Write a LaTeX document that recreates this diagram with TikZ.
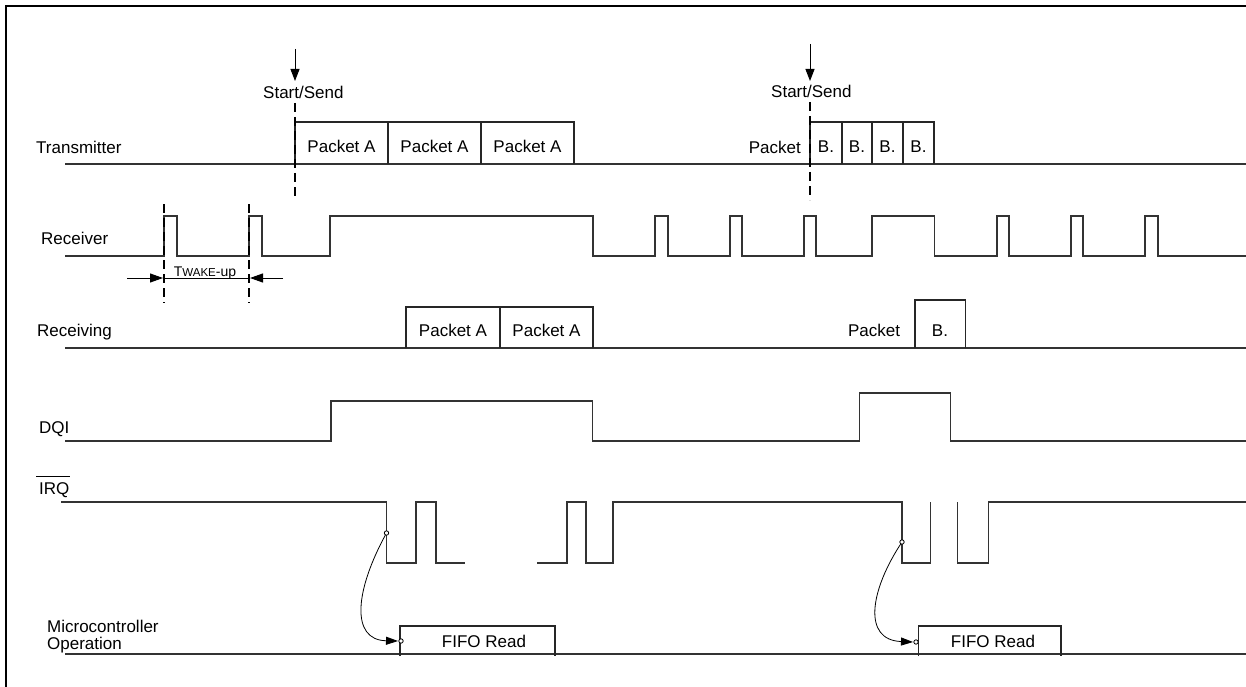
\documentclass[tikz,border=0pt]{standalone}
\usepackage{fontspec}
\setmainfont{Liberation Sans}
\usetikzlibrary{arrows.meta}
\begin{document}
\begin{tikzpicture}[x=1pt,y=-1pt,
  lbl/.style={font=\fontsize{17}{20}\selectfont, inner sep=0pt},
  sig/.style={line width=1.1pt, draw=black!80, line join=miter},
  box/.style={line width=1.1pt, draw=black!85},
  dsh/.style={line width=2pt, dash pattern=on 9pt off 5pt, draw=black},
  arr/.style={line width=1pt, -{Triangle[length=12pt,width=9pt]}},
  carr/.style={line width=0.8pt, -{Triangle[length=12pt,width=8pt]}},
  dot/.style={line width=0.8pt, draw=black, fill=white}]
\useasboundingbox (0,0) rectangle (1246,687);
% frame
\draw[line width=2.5pt] (6,687) -- (6,6) -- (1246,6);

% ---------- labels ----------
\node[lbl, anchor=base west] (ltx) at (36,154) {Transmitter};
\node[lbl, anchor=base west] (lrx) at (41,244) {Receiver};
\node[lbl, anchor=base west] (lrcv) at (37,336) {Receiving};
\node[lbl, anchor=base west] (ldqi) at (39,433) {DQI};
\node[lbl, anchor=base west] (lirq) at (39,494) {IRQ};
\draw[line width=1pt] ([xshift=-3pt,yshift=5pt]lirq.north west) -- ([yshift=5pt]lirq.north east);
\node[lbl, anchor=base west] (lmc1) at (47,632) {Microcontroller};
\node[lbl, anchor=base west] (lmc2) at (47,649) {Operation};

% ---------- Start/Send markers ----------
\node[lbl, anchor=base west] (ss1) at (263,99) {Start/Send};
\node[lbl, anchor=base west] (ss2) at (771,98) {Start/Send};
\coordinate (a1s) at (295,49); \coordinate (a1t) at (295,81);
\coordinate (a2s) at (810,44); \coordinate (a2t) at (810,81);
\draw[arr] (a1s) -- (a1t);
\draw[arr] (a2s) -- (a2t);

% ---------- Transmitter ----------
\draw[sig] (65,164) -- (1246,164);
\draw[box] (295,164) -- (295,122) -- (574,122) -- (574,164);
\draw[box] (388,122) -- (388,164);
\draw[box] (481,122) -- (481,164);
\node[lbl, anchor=base] (tpa1) at (341.5,153) {Packet A};
\node[lbl, anchor=base] (tpa2) at (434.5,153) {Packet A};
\node[lbl, anchor=base] (tpa3) at (527.5,153) {Packet A};
\draw[box] (810,164) -- (810,122) -- (934,122) -- (934,164);
\draw[box] (842,122) -- (842,164);
\draw[box] (872,122) -- (872,164);
\draw[box] (903,122) -- (903,164);
\node[lbl, anchor=base east] (tpk) at (801,154) {Packet};
\node[lbl, anchor=base] (tb1) at (826,153) {B.};
\node[lbl, anchor=base] (tb2) at (857,153) {B.};
\node[lbl, anchor=base] (tb3) at (887.5,153) {B.};
\node[lbl, anchor=base] (tb4) at (918.5,153) {B.};
\draw[dsh] (295,103) -- (295,200);
\draw[dsh] (810,102) -- (810,200);

% ---------- Receiver ----------
\draw[sig] (65,256) -- (164,256) -- (164,216) -- (177,216) -- (177,256)
  -- (249,256) -- (249,216) -- (262,216) -- (262,256)
  -- (330,256) -- (330,216) -- (593,216) -- (593,256)
  -- (655,256) -- (655,216) -- (668,216) -- (668,256)
  -- (730,256) -- (730,216) -- (742,216) -- (742,256)
  -- (804,256) -- (804,216) -- (816,216) -- (816,256)
  -- (872,256) -- (872,216) -- (934.5,216) -- (934.5,256)
  -- (997,256) -- (997,216) -- (1009,216) -- (1009,256)
  -- (1071,256) -- (1071,216) -- (1083,216) -- (1083,256)
  -- (1145,256) -- (1145,216) -- (1158,216) -- (1158,256) -- (1246,256);
\draw[dsh] (164,204) -- (164,303);
\draw[dsh] (249,204) -- (249,303);
\coordinate (w1s) at (127,278); \coordinate (w1t) at (163,278);
\coordinate (w2s) at (283,278); \coordinate (w2t) at (250,278);
\draw[arr, -{Triangle[length=13pt,width=9pt]}] (w1s) -- (w1t);
\draw[arr, -{Triangle[length=13pt,width=9pt]}] (w2s) -- (w2t);
\draw[line width=1pt] (164,278) -- (249,278);
\node[inner sep=0pt, anchor=base] (twk) at (205,276.5)
  {\fontsize{14}{16}\selectfont T\fontsize{11.5}{14}\selectfont WAKE\fontsize{14}{16}\selectfont -up};

% ---------- Receiving ----------
\draw[sig] (65,348) -- (1246,348);
\draw[box] (406,348) -- (406,307) -- (593,307) -- (593,348);
\draw[box] (500,307) -- (500,348);
\node[lbl, anchor=base] (rpa1) at (453,336) {Packet A};
\node[lbl, anchor=base] (rpa2) at (546.5,336) {Packet A};
\node[lbl, anchor=base] (rpk) at (874,336) {Packet};
\draw[box] (915,348) -- (915,300) -- (965.5,300) -- (965.5,348);
\node[lbl, anchor=base] (rb) at (940,336) {B.};

% ---------- DQI ----------
\draw[sig] (65,441) -- (331,441) -- (331,401) -- (592.6,401) -- (592.6,441)
  -- (859.5,441) -- (859.5,393) -- (950.5,393) -- (950.5,441) -- (1246,441);

% ---------- IRQ ----------
\draw[sig] (61,502) -- (386.5,502) -- (386.5,563) -- (416,563) -- (416,502)
  -- (436,502) -- (436,563) -- (465,563);
\draw[sig] (537,563) -- (567,563) -- (567,502) -- (586,502) -- (586,563)
  -- (613,563) -- (613,502) -- (902,502) -- (902,563) -- (930.6,563) -- (930.6,502);
\draw[sig] (957.7,502) -- (957.7,563) -- (988.5,563) -- (988.5,502) -- (1246,502);

% ---------- Microcontroller ----------
\draw[sig] (65,654) -- (1246,654);
\draw[box] (400,656) -- (400,626) -- (555,626) -- (555,656);
\draw[box] (918.6,656) -- (918.6,626) -- (1061,626) -- (1061,656);
\node[lbl, anchor=base] (f1) at (484,647) {FIFO Read};
\node[lbl, anchor=base] (f2) at (993,647) {FIFO Read};

% ---------- interrupt arrows ----------
\coordinate (c1a) at (386.5,533); \coordinate (c1b) at (398,641);
\coordinate (c2a) at (902,542);   \coordinate (c2b) at (913,642);
\draw[carr] (c1a) .. controls (355,590) and (350,640) .. (c1b);
\draw[carr] (c2a) .. controls (870,590) and (862,640) .. (c2b);
\draw[dot] (c1a) circle[radius=2.2pt];
\draw[dot] (c2a) circle[radius=2.2pt];
\coordinate (d1) at (401,641); \coordinate (d2) at (916,642);
\draw[dot] (d1) circle[radius=2.2pt];
\draw[dot] (d2) circle[radius=2.2pt];
\end{tikzpicture}
\end{document}
